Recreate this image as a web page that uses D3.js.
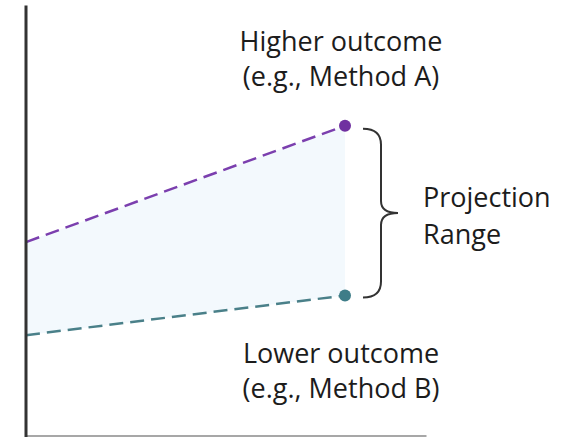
<!DOCTYPE html>
<html>
<head>
<meta charset="utf-8">
<style>
  body { margin: 0; background: #fff; }
  .label { font-family: "Open Sans", sans-serif; font-size: 27px; fill: #1c1c1c; }
</style>
</head>
<body>
<svg width="574" height="437"></svg>
<script src="https://d3js.org/d3.v7.min.js"></script>
<script>

// projection endpoints (start, end)
var steps = [0, 1];
var higher = [45, 72];
var lower = [23.4, 32.6];
var labelsHigh = ["Higher outcome", "(e.g., Method A)"];
var labelsLow = ["Lower outcome", "(e.g., Method B)"];
var labelsRange = ["Projection", "Range"];

var svg = d3.select("svg");

var x = d3.scaleLinear().domain([0, 1]).range([26, 345]);
var y = d3.scaleLinear().domain([0, 100]).range([436, 5]);

// shaded range between the two outcomes
var area = d3.area()
    .x(function(d, i) { return x(steps[i]); })
    .y0(function(d, i) { return y(lower[i]); })
    .y1(function(d) { return y(d); });

svg.append("path")
    .datum(higher)
    .attr("d", area)
    .style("fill", "#f3f9fd");

var line = d3.line()
    .x(function(d, i) { return x(steps[i]); })
    .y(function(d) { return y(d); });

svg.append("path")
    .datum(higher)
    .attr("d", line)
    .style("fill", "none")
    .style("stroke", "#7b3fae")
    .style("stroke-width", 2.5)
    .style("stroke-dasharray", "14,7");

svg.append("path")
    .datum(lower)
    .attr("d", line)
    .style("fill", "none")
    .style("stroke", "#4a8089")
    .style("stroke-width", 2.5)
    .style("stroke-dasharray", "14,7");

// end points
svg.append("circle").attr("cx", x(1)).attr("cy", y(higher[1])).attr("r", 6).style("fill", "#7030a0");
svg.append("circle").attr("cx", x(1)).attr("cy", y(lower[1])).attr("r", 6).style("fill", "#3e7d88");

// axes
svg.append("g")
    .attr("transform", "translate(0,435.5)")
    .call(d3.axisBottom(d3.scaleLinear().range([26, 426])).ticks(0).tickSizeOuter(0))
    .select(".domain").style("stroke", "#8a8a8a").style("stroke-width", 1.5);

svg.append("g")
    .attr("transform", "translate(25.5,0)")
    .call(d3.axisLeft(d3.scaleLinear().range([5, 437])).ticks(0).tickSizeOuter(0))
    .select(".domain").style("stroke", "#333").style("stroke-width", 3);

// brace
var yt = y(higher[1]) + 3, yb = y(lower[1]) + 2, ym = (yt + yb) / 2;
var bx = 363, bv = 381, btip = 398, r = 12;
var brace = d3.path();
brace.moveTo(bx, yt);
brace.quadraticCurveTo(bv, yt, bv, yt + r + 4);
brace.lineTo(bv, ym - r);
brace.quadraticCurveTo(bv, ym, btip, ym);
brace.quadraticCurveTo(bv, ym, bv, ym + r);
brace.lineTo(bv, yb - r - 4);
brace.quadraticCurveTo(bv, yb, bx, yb);
svg.append("path")
    .attr("d", brace.toString())
    .style("fill", "none")
    .style("stroke", "#333")
    .style("stroke-width", 2);

// labels
svg.selectAll(".hi").data(labelsHigh).enter().append("text")
    .attr("class", "label")
    .attr("x", 341).attr("y", function(d, i) { return 51 + i * 35; })
    .attr("text-anchor", "middle")
    .text(function(d) { return d; });

svg.selectAll(".lo").data(labelsLow).enter().append("text")
    .attr("class", "label")
    .attr("x", 341).attr("y", function(d, i) { return 363 + i * 35; })
    .attr("text-anchor", "middle")
    .text(function(d) { return d; });

svg.selectAll(".rg").data(labelsRange).enter().append("text")
    .attr("class", "label")
    .attr("x", 423).attr("y", function(d, i) { return 207 + i * 37; })
    .text(function(d) { return d; });

</script>
</body>
</html>
